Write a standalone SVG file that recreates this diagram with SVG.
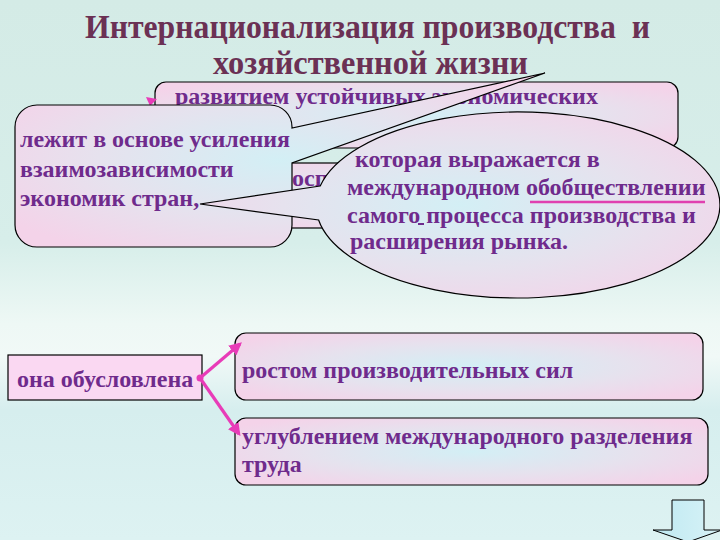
<svg xmlns="http://www.w3.org/2000/svg" width="720" height="540" viewBox="0 0 720 540">
  <defs>
    <linearGradient id="bg" x1="0" y1="0" x2="0" y2="1">
      <stop offset="0" stop-color="#d4ebe6"/>
      <stop offset="0.45" stop-color="#d7eeea"/>
      <stop offset="0.6" stop-color="#eef8f5"/>
      <stop offset="0.66" stop-color="#f1f9f7"/>
      <stop offset="0.76" stop-color="#d6eeee"/>
      <stop offset="1" stop-color="#ddf2f2"/>
    </linearGradient>
    <radialGradient id="pk" cx="0.5" cy="0.5" r="0.62">
      <stop offset="0" stop-color="#d3eff5"/>
      <stop offset="0.55" stop-color="#e6e2ee"/>
      <stop offset="1" stop-color="#f4d3e9"/>
    </radialGradient>
    <linearGradient id="arr" x1="0" y1="0" x2="1" y2="0">
      <stop offset="0" stop-color="#bfe9f2"/>
      <stop offset="1" stop-color="#d8f3f7"/>
    </linearGradient>
    <marker id="ah" viewBox="0 0 10 10" refX="8" refY="5" markerWidth="4" markerHeight="4" orient="auto">
      <path d="M0,0 L10,5 L0,10 Z" fill="#e83cb8"/>
    </marker>
  </defs>
  <style>
    .t { font-family: "Liberation Serif", "Times New Roman", serif; font-weight: bold; font-size: 24px; fill: #6f2b8c; }
    .ti { font-family: "Liberation Serif", "Times New Roman", serif; font-weight: bold; font-size: 33px; fill: #6b3154; }
    .box { fill: url(#pk); stroke: #000; stroke-width: 1.2; }
    .con { stroke: #e83cb8; stroke-width: 3.2; fill: none; }
  </style>

  <rect width="720" height="540" fill="url(#bg)"/>

  <g id="title">
    <text class="ti" x="85" y="38" textLength="565" lengthAdjust="spacingAndGlyphs" xml:space="preserve">Интернационализация производства  и</text>
    <text class="ti" x="213" y="74" textLength="315" lengthAdjust="spacingAndGlyphs">хозяйственной жизни</text>
  </g>

  <g id="node-development">
    <rect class="box" x="155" y="82" width="523" height="66" rx="11"/>
    <text class="t" x="175" y="104">развитием устойчивых экономических</text>
  </g>

  <g id="node-hidden">
    <rect class="box" x="240" y="163" width="260" height="65"/>
    <text class="t" x="292" y="186">осп</text>
  </g>

  <path d="M146,97 L157,99 L150,106 Z" fill="#e83cb8"/>

  <g id="node-basis">
    <path class="box" d="M37,105 H270 A22,22 0 0 1 292,127 L292,128 L545,73 L292,163 V225 A22,22 0 0 1 270,247 H37 A22,22 0 0 1 15,225 V127 A22,22 0 0 1 37,105 Z"/>
    <text class="t" x="20" y="147">лежит в основе усиления</text>
    <text class="t" x="20" y="177">взаимозависимости</text>
    <text class="t" x="20" y="206">экономик стран,</text>
  </g>

  <g id="node-expressed">
    <path class="box" d="M320.2,186 L200,204 L318.6,220 A202,93 0 1 0 320.2,186 Z"/>
    <text class="t" x="349" y="167" xml:space="preserve"> которая выражается в</text>
    <text class="t" x="347" y="195">международном обобществлении</text>
    <line x1="530" y1="202" x2="705" y2="202" stroke="#e040b0" stroke-width="2.5"/>
    <text class="t" x="347" y="223">самого процесса производства и</text>
    <rect x="418" y="223" width="6" height="2" fill="#6f2b8c"/>
    <text class="t" x="350" y="249">расширения рынка.</text>
  </g>

  <g id="node-caused">
    <rect x="8" y="355" width="194" height="45" fill="#fad8f2" stroke="#000" stroke-width="1.2"/>
    <text class="t" x="17" y="387">она обусловлена</text>
  </g>

  <g id="node-growth">
    <rect class="box" x="235" y="333" width="468" height="67" rx="11"/>
    <text class="t" x="242" y="378">ростом производительных сил</text>
  </g>

  <g id="node-division">
    <rect class="box" x="235" y="418" width="473" height="67" rx="11"/>
    <text class="t" x="242" y="444">углублением международного разделения</text>
    <text class="t" x="242" y="472">труда</text>
  </g>

  <g id="connectors">
    <circle cx="200" cy="378" r="3.5" fill="#e83cb8"/>
    <line class="con" x1="200" y1="378" x2="240" y2="344" marker-end="url(#ah)"/>
    <line class="con" x1="200" y1="378" x2="239" y2="434" marker-end="url(#ah)"/>
  </g>

  <g id="down-arrow">
    <path d="M672,500 H704 V530 H722 L688,542 L653,530 H672 Z" fill="url(#arr)" stroke="#000" stroke-width="1"/>
  </g>
</svg>
